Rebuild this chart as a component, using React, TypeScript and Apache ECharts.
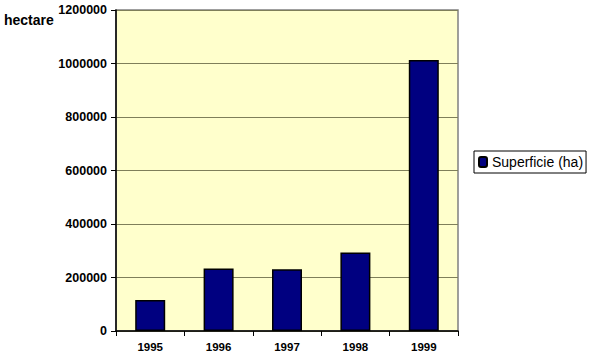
import React, { useEffect, useRef } from "react";
import * as echarts from "echarts";

const categories = ["1995", "1996", "1997", "1998", "1999"];
const superficie = [116000, 234000, 231000, 293000, 1013000];
const seriesName = "Superficie (ha)";
const yAxisTitle = "hectare";

export default function App() {
  const ref = useRef<HTMLDivElement>(null);
  useEffect(() => {
    const chart = echarts.init(ref.current!, null, { renderer: "svg" });
    chart.setOption({
      animation: false,
      backgroundColor: "#ffffff",
      textStyle: { fontFamily: "Liberation Sans, Arial, sans-serif" },
      grid: {
        left: 116,
        top: 10,
        width: 342,
        height: 321,
        show: true,
        backgroundColor: "#FFFFCC",
        borderColor: "#808080",
        borderWidth: 1.5,
      },
      graphic: [
        {
          type: "text",
          left: 4,
          top: 13,
          style: {
            text: yAxisTitle,
            font: "bold 14px Liberation Sans, Arial, sans-serif",
            fill: "#000",
          },
        },
      ],
      legend: {
        left: 474,
        top: 151,
        orient: "vertical",
        data: [seriesName],
        borderColor: "#000",
        borderWidth: 1,
        padding: [4, 3, 4, 4],
        itemWidth: 8,
        itemHeight: 10,
        itemGap: 4,
        textStyle: { fontSize: 14, color: "#000", fontFamily: "Liberation Sans, Arial, sans-serif" },
      },
      xAxis: {
        type: "category",
        data: categories,
        axisLine: { lineStyle: { color: "#000", width: 1.5 } },
        axisTick: { show: true, alignWithLabel: false, length: 5, lineStyle: { color: "#000" } },
        axisLabel: { fontWeight: "bold", fontSize: 11.5, color: "#000", margin: 10 },
      },
      yAxis: {
        type: "value",
        min: 0,
        max: 1200000,
        interval: 200000,
        axisLine: { show: true, lineStyle: { color: "#000", width: 1.5 } },
        axisTick: { show: true, length: 5, lineStyle: { color: "#000" } },
        axisLabel: {
          fontWeight: "bold",
          fontSize: 12.5,
          color: "#000",
          margin: 9,
          formatter: (v: number) => String(v),
        },
        splitLine: { lineStyle: { color: "#7f7f5a", width: 1 } },
      },
      series: [
        {
          name: seriesName,
          type: "bar",
          data: superficie,
          barWidth: 30,
          itemStyle: { color: "#000080", borderColor: "#000", borderWidth: 1.5 },
        },
      ],
    });
    return () => chart.dispose();
  }, []);
  return (
    <div
      ref={ref}
      style={{ position: "fixed", left: 0, top: 0, width: 599, height: 356 }}
    />
  );
}
